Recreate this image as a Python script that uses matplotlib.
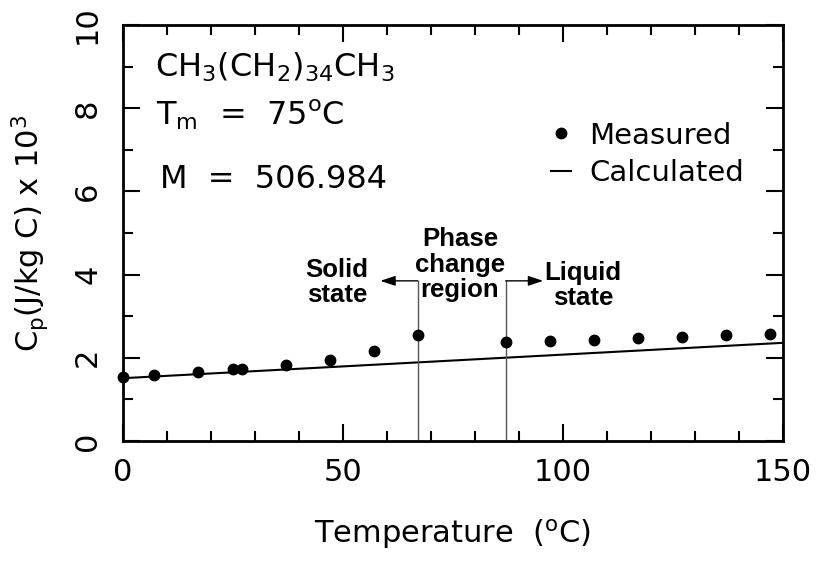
import matplotlib
matplotlib.use("Agg")
import matplotlib.pyplot as plt
from matplotlib.ticker import MultipleLocator

# Data
temp_measured = [0, 7, 17, 25, 27, 37, 47, 57, 67, 87, 97, 107, 117, 127, 137, 147]
cp_measured = [1.55, 1.59, 1.66, 1.72, 1.73, 1.83, 1.95, 2.17, 2.55,
               2.38, 2.41, 2.44, 2.48, 2.51, 2.55, 2.57]
temp_calc = [0, 150]
cp_calc = [1.51, 2.36]
phase_bounds = [67, 87]

plt.rcParams['font.family'] = ['DejaVu Sans']
plt.rcParams['mathtext.fontset'] = 'dejavusans'

fig = plt.figure(figsize=(8.16, 5.61), dpi=100)
ax = fig.add_axes([0.1507, 0.2139, 0.8088, 0.7415])

ax.plot(temp_measured, cp_measured, 'o', color='black', markersize=7.5,
        label='Measured', clip_on=False, zorder=5)
ax.plot(temp_calc, cp_calc, '-', color='black', lw=1.5, label='Calculated')

ax.set_xlim(0, 150)
ax.set_ylim(0, 10)
ax.xaxis.set_major_locator(MultipleLocator(50))
ax.xaxis.set_minor_locator(MultipleLocator(10))
ax.yaxis.set_major_locator(MultipleLocator(2))
ax.yaxis.set_minor_locator(MultipleLocator(1))
ax.tick_params(which='both', direction='in', top=True, right=True, width=1.5,
               labelsize=22)
ax.tick_params(which='major', length=12)
ax.tick_params(axis='x', which='major', pad=12)
ax.tick_params(axis='y', which='major', pad=15)
ax.tick_params(which='minor', length=7)
for lab in ax.get_yticklabels():
    lab.set_rotation(90)
    lab.set_va('center')
for sp in ax.spines.values():
    sp.set_linewidth(2)

ax.set_xlabel(r'Temperature  ($^\mathrm{o}$C)', fontsize=22, labelpad=22)
ax.set_ylabel(r'C$_\mathrm{p}$(J/kg C) x 10$^3$', fontsize=22, labelpad=16)

# Phase boundaries and arrows
top = 3.85
for xb in phase_bounds:
    ax.plot([xb, xb], [0, top], color='#555555', lw=1)
ax.annotate('', xy=(58.5, top), xytext=(phase_bounds[0], top),
            arrowprops=dict(arrowstyle='-|>,head_length=0.9,head_width=0.3',
                            color='black', lw=1, shrinkA=0, shrinkB=0))
ax.annotate('', xy=(95.5, top), xytext=(phase_bounds[1], top),
            arrowprops=dict(arrowstyle='-|>,head_length=0.9,head_width=0.3',
                            color='black', lw=1, shrinkA=0, shrinkB=0))

bold = dict(family='Liberation Sans', fontweight='bold', fontsize=18.5,
            ha='center', va='baseline', linespacing=1.07)
ax.text(48.6, 3.34, 'Solid\nstate', **bold)
ax.text(76.6, 3.46, 'Phase\nchange\nregion', **bold)
ax.text(104.5, 3.27, 'Liquid\nstate', **bold)

ax.text(7.3, 8.75, r'CH$_3$(CH$_2$)$_{34}$CH$_3$', fontsize=23, va='baseline')
ax.text(7.6, 7.6, r'T$_\mathrm{m}$  =  75$^\mathrm{o}$C', fontsize=23, va='baseline')
ax.text(8.4, 6.08, 'M  =  506.984', fontsize=23, va='baseline')

ax.legend(loc='upper left', bbox_to_anchor=((551 - 123) / 660, 0.768),
          frameon=False, fontsize=21, handlelength=0.7, handletextpad=0.6,
          labelspacing=0.33, borderpad=0, borderaxespad=0)

fig.savefig('out.png', dpi=100)
